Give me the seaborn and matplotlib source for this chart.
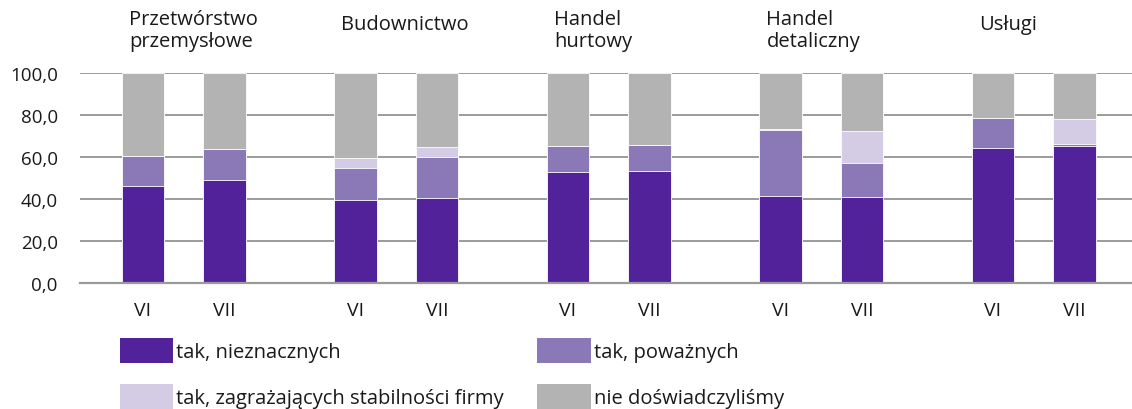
import matplotlib
matplotlib.use("Agg")
import matplotlib.pyplot as plt
from matplotlib.patches import Patch
import numpy as np
import pandas as pd
import seaborn as sns

# ---- data ----
sectors = ["Przetwórstwo\nprzemysłowe", "Budownictwo", "Handel\nhurtowy", "Handel\ndetaliczny", "Usługi"]
months = ["VI", "VII"]
series_names = ["tak, nieznacznych", "tak, poważnych",
                "tak, zagrażających stabilności firmy", "nie doświadczyliśmy"]
# values per bar, order: sector x month (VI, VII)
minor = [46.1, 49.0, 39.5, 40.5, 52.9, 53.4, 41.4, 41.0, 64.4, 65.4]
serious = [14.3, 14.6, 15.5, 19.5, 12.5, 12.5, 31.3, 16.2, 14.1, 0.8]
threat = [0.0, 0.0, 4.5, 4.6, 0.0, 0.0, 0.6, 15.0, 0.0, 11.8]
none_ = [39.6, 36.4, 40.5, 35.4, 34.6, 34.1, 26.7, 27.8, 21.5, 22.0]

colors = ["#52229A", "#8B79B7", "#D4CBE5", "#B3B3B3"]

# ---- layout ----
W, H = 1132, 410
FAM = ["Open Sans", "DejaVu Sans"]
sns.set_theme(style="white")
plt.rcParams["font.family"] = FAM

fig = plt.figure(figsize=(W / 100, H / 100), dpi=100)
ax = fig.add_axes([80 / W, 1 - 284 / H, (W - 80) / W, 210 / H])

group_step = 2.607
pos = [g * group_step + j for g in range(len(sectors)) for j in range(len(months))]
labels = [m for _ in sectors for m in months]

stack = np.vstack([minor, serious, threat, none_])
cum = np.cumsum(stack, axis=0)

df = pd.DataFrame({"x": np.round(pos, 3)})
for k in range(4):
    df[f"c{k}"] = cum[k]

for k in range(3, -1, -1):
    sns.barplot(data=df, x="x", y=f"c{k}", native_scale=True, width=0.52,
                color=colors[k], saturation=1, edgecolor="white", linewidth=0.6,
                errorbar=None, ax=ax, zorder=3)

XL, XR = -0.773, 12.135
ax.set_xlim(XL, XR)
ax.set_ylim(0, 100)
yt = [0, 20, 40, 60, 80, 100]
ax.set_yticks(yt)
ax.set_yticklabels([f"{v:.1f}".replace(".", ",") for v in yt])
ax.set_xticks(pos)
ax.set_xticklabels(labels)
for t in ax.get_yticklabels():
    t.set_fontfamily(FAM)
    t.set_fontsize(13.5)
    t.set_color("#1a1a1a")
for t in ax.get_xticklabels():
    t.set_fontfamily(FAM)
    t.set_fontsize(14)
    t.set_color("#1a1a1a")
ax.tick_params(axis="both", length=0)
ax.tick_params(axis="x", pad=13)
ax.tick_params(axis="y", pad=16)
ax.set_xlabel("")
ax.set_ylabel("")
ax.yaxis.grid(True, color="#808080", linewidth=1.1, zorder=0)
ax.set_axisbelow(True)
for s in ["top", "right", "left"]:
    ax.spines[s].set_visible(False)
ax.spines["bottom"].set_color("#9a9a9a")
ax.spines["bottom"].set_linewidth(1.6)
ax.spines["bottom"].set_zorder(4)

# sector titles
for g, name in enumerate(sectors):
    xpix = 80 + (pos[2 * g] - XL) / (XR - XL) * (W - 80) - 21 + 7
    two = "\n" in name
    ypix = 10 if two else 15
    fig.text(xpix / W, 1 - ypix / H, name, fontsize=14.5, color="#1a1a1a",
             ha="left", va="top", linespacing=1.12, family=FAM)

handles = [Patch(facecolor=c, edgecolor="none") for c in colors]
order = [0, 2, 1, 3]
fig.legend([handles[i] for i in order], [series_names[i] for i in order],
           loc="upper left", bbox_to_anchor=(120 / W, 1 - 339 / H), ncol=2,
           frameon=False, prop={"family": FAM, "size": 14.5},
           handlelength=2.65, handleheight=1.55, handletextpad=0.15,
           columnspacing=1.65, labelspacing=1.03, borderpad=0, borderaxespad=0,
           labelcolor="#1a1a1a")

fig.savefig("out.png", dpi=100)
